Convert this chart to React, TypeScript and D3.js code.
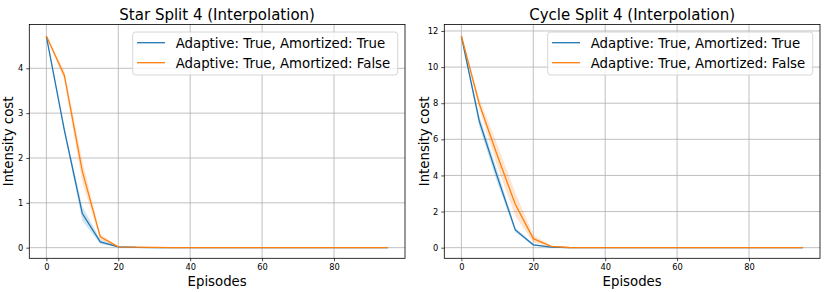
import { useEffect, useRef } from 'react';
import * as d3 from 'd3';

// Episode index shared by both panels
const episodes = [0, 5, 10, 15, 20, 25, 30, 35, 40, 45, 50, 55, 60, 65, 70, 75, 80, 85, 90, 95];

const seriesLabels = ['Adaptive: True, Amortized: True', 'Adaptive: True, Amortized: False'];
const seriesColors = ['#1f77b4', '#ff7f0e'];

// Star split 4
const starAmortized = [4.71, 2.62, 0.76, 0.13, 0.02, 0.005, 0, 0, 0, 0, 0, 0, 0, 0, 0, 0, 0, 0, 0, 0];
const starAmortizedSd = [0.02, 0.06, 0.16, 0.05, 0.01, 0, 0, 0, 0, 0, 0, 0, 0, 0, 0, 0, 0, 0, 0, 0];
const starPlain = [4.72, 3.84, 1.7, 0.24, 0.02, 0.01, 0.005, 0, 0, 0, 0, 0, 0, 0, 0, 0, 0, 0, 0, 0];
const starPlainSd = [0.02, 0.1, 0.25, 0.06, 0.01, 0.005, 0, 0, 0, 0, 0, 0, 0, 0, 0, 0, 0, 0, 0, 0];
const starTicks = [0, 1, 2, 3, 4];

// Cycle split 4
const cycleAmortized = [11.7, 7.0, 3.93, 0.98, 0.16, 0.03, 0, 0, 0, 0, 0, 0, 0, 0, 0, 0, 0, 0, 0, 0];
const cycleAmortizedSd = [0.05, 0.3, 0.35, 0.12, 0.05, 0.01, 0, 0, 0, 0, 0, 0, 0, 0, 0, 0, 0, 0, 0, 0];
const cyclePlain = [11.72, 7.95, 5.1, 2.4, 0.5, 0.07, 0.01, 0, 0, 0, 0, 0, 0, 0, 0, 0, 0, 0, 0, 0];
const cyclePlainSd = [0.05, 0.3, 0.6, 0.65, 0.22, 0.03, 0.005, 0, 0, 0, 0, 0, 0, 0, 0, 0, 0, 0, 0, 0];
const cycleTicks = [0, 2, 4, 6, 8, 10, 12];

const xTicks = [0, 20, 40, 60, 80];

const FONT = 'DejaVu Sans, sans-serif';

interface PanelProps {
  left: number;
  title: string;
  means: number[][];
  sds: number[][];
  yTicks: number[];
}

function Panel({ left, title, means, sds, yTicks }: PanelProps) {
  const ref = useRef<SVGGElement>(null);

  useEffect(() => {
    if (!ref.current) return;
    const g = d3.select(ref.current);
    g.selectAll('*').remove();

    const w = 375.7;
    const top = 24.5;
    const h = 233.8;

    // matplotlib-style 5% margins
    const xMin = d3.min(episodes)!;
    const xMax = d3.max(episodes)!;
    const xPad = (xMax - xMin) * 0.05;
    const x = d3.scaleLinear().domain([xMin - xPad, xMax + xPad]).range([0, w]);

    const lows = means.flatMap((m, i) => m.map((v, j) => v - sds[i][j]));
    const highs = means.flatMap((m, i) => m.map((v, j) => v + sds[i][j]));
    const yLo = Math.min(0, d3.min(lows)!);
    const yHi = d3.max(highs)!;
    const yPad = (yHi - yLo) * 0.05;
    const y = d3.scaleLinear().domain([yLo - yPad, yHi + yPad]).range([h, 0]);

    const plot = g.append('g').attr('transform', `translate(0,${top})`);

    // Grid
    plot.selectAll('line.vgrid')
      .data(xTicks)
      .join('line')
      .attr('x1', (d) => x(d))
      .attr('x2', (d) => x(d))
      .attr('y1', 0)
      .attr('y2', h)
      .attr('stroke', '#b0b0b0')
      .attr('stroke-width', 0.8);
    plot.selectAll('line.hgrid')
      .data(yTicks)
      .join('line')
      .attr('x1', 0)
      .attr('x2', w)
      .attr('y1', (d) => y(d))
      .attr('y2', (d) => y(d))
      .attr('stroke', '#b0b0b0')
      .attr('stroke-width', 0.8);

    const area = d3.area<number>()
      .x((_, j) => x(episodes[j]));
    const line = d3.line<number>()
      .x((_, j) => x(episodes[j]))
      .y((d) => y(d));

    means.forEach((m, i) => {
      const sd = sds[i];
      plot.append('path')
        .datum(m)
        .attr('d', area.y0((d, j) => y(d - sd[j])).y1((d, j) => y(d + sd[j])))
        .attr('fill', seriesColors[i])
        .attr('fill-opacity', 0.2);
    });
    means.forEach((m, i) => {
      plot.append('path')
        .datum(m)
        .attr('d', line)
        .attr('fill', 'none')
        .attr('stroke', seriesColors[i])
        .attr('stroke-width', 1.3);
    });

    // Axes
    const xAxis = plot.append('g')
      .attr('transform', `translate(0,${h})`)
      .call(d3.axisBottom(x).tickValues(xTicks).tickSize(3).tickPadding(3));
    const yAxis = plot.append('g')
      .call(
        d3.axisLeft(y)
          .tickValues(yTicks)
          .tickFormat(d3.format('d'))
          .tickSize(3)
          .tickPadding(3)
      );
    [xAxis, yAxis].forEach((a) => {
      a.select('.domain').remove();
      a.selectAll('.tick line').attr('stroke', '#000').attr('stroke-width', 0.7);
      a.selectAll('text')
        .attr('fill', '#000')
        .attr('font-family', FONT)
        .attr('font-size', 8.3);
    });

    plot.append('rect')
      .attr('width', w)
      .attr('height', h)
      .attr('fill', 'none')
      .attr('stroke', '#000')
      .attr('stroke-width', 0.8);

    // Legend
    const lg = plot.append('g').attr('transform', `translate(${w - 272.3},7.5)`);
    lg.append('rect')
      .attr('width', 265)
      .attr('height', 43)
      .attr('rx', 3)
      .attr('fill', 'rgba(255,255,255,0.8)')
      .attr('stroke', '#cccccc')
      .attr('stroke-width', 0.8);
    seriesLabels.forEach((label, i) => {
      const cy = 10.7 + i * 20;
      lg.append('line')
        .attr('x1', 4.3)
        .attr('x2', 32.3)
        .attr('y1', cy)
        .attr('y2', cy)
        .attr('stroke', seriesColors[i])
        .attr('stroke-width', 1.3);
      lg.append('text')
        .attr('x', 43)
        .attr('y', cy + 5)
        .attr('font-family', FONT)
        .attr('font-size', 13.3)
        .attr('fill', '#000')
        .text(label);
    });

    // Titles
    g.append('text')
      .attr('x', w / 2)
      .attr('y', 19.5)
      .attr('text-anchor', 'middle')
      .attr('font-family', FONT)
      .attr('font-size', 15)
      .attr('fill', '#000')
      .text(title);
    g.append('text')
      .attr('x', w / 2)
      .attr('y', 285.7)
      .attr('text-anchor', 'middle')
      .attr('font-family', FONT)
      .attr('font-size', 13.3)
      .attr('fill', '#000')
      .text('Episodes');
    g.append('text')
      .attr('transform', `translate(-15.8,${top + h / 2}) rotate(-90)`)
      .attr('text-anchor', 'middle')
      .attr('font-family', FONT)
      .attr('font-size', 13.3)
      .attr('fill', '#000')
      .text('Intensity cost');
  }, [left, title, means, sds, yTicks]);

  return <g ref={ref} transform={`translate(${left},0)`} />;
}

export default function App() {
  return (
    <svg
      width={830}
      height={292}
      style={{ position: 'absolute', left: 0, top: 0, background: '#fff' }}
    >
      <Panel
        left={29.3}
        title="Star Split 4 (Interpolation)"
        means={[starAmortized, starPlain]}
        sds={[starAmortizedSd, starPlainSd]}
        yTicks={starTicks}
      />
      <Panel
        left={444.3}
        title="Cycle Split 4 (Interpolation)"
        means={[cycleAmortized, cyclePlain]}
        sds={[cycleAmortizedSd, cyclePlainSd]}
        yTicks={cycleTicks}
      />
    </svg>
  );
}
